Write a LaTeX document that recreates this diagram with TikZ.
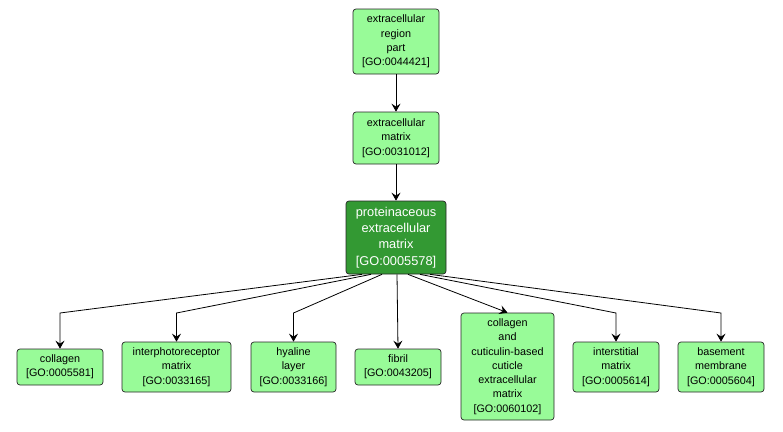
\documentclass[tikz,border=0pt]{standalone}
\usepackage{fontspec}
\setmainfont{Liberation Sans}
\usepackage{tikz}
\usetikzlibrary{arrows.meta,positioning}
\usepackage{xcolor}
\definecolor{go-light}{RGB}{152,251,152}
\definecolor{go-dark}{RGB}{51,153,51}
\tikzstyle{term}=[draw=black!85, fill=go-light, rounded corners=3pt, align=center, inner sep=0pt, line width=.7pt, font=\fontsize{10.8}{14.3}\selectfont]
\tikzstyle{focus}=[term, fill=go-dark, text=white, font=\fontsize{12.8}{16.3}\selectfont]
\tikzstyle{isa}=[-{Stealth[length=8pt,width=9pt,inset=3pt]}, line width=.8pt]

\begin{document}
\begin{tikzpicture}[x=1pt, y=-1pt]
	\useasboundingbox (0,0) rectangle (783,431);
	% top of the chain
	\node[term, minimum width=86pt, minimum height=65pt] (region) at (396,41.5) {extracellular\\region\\part\\{[GO:0044421]}};
	\node[term, minimum width=86pt, minimum height=52pt] (ecm) at (396,138) {extracellular\\matrix\\{[GO:0031012]}};
	\node[focus, minimum width=100pt, minimum height=73pt] (pecm) at (396,237.5) {proteinaceous\\extracellular\\matrix\\{[GO:0005578]}};
	% children
	\node[term, minimum width=86pt, minimum height=36pt] (collagen) at (60,367) {collagen\\{[GO:0005581]}};
	\node[term, minimum width=109pt, minimum height=50pt] (irm) at (176.5,367) {interphotoreceptor\\matrix\\{[GO:0033165]}};
	\node[term, minimum width=85pt, minimum height=50pt] (hyaline) at (293.5,367) {hyaline\\layer\\{[GO:0033166]}};
	\node[term, minimum width=86pt, minimum height=36pt] (fibril) at (398,367) {fibril\\{[GO:0043205]}};
	\node[term, minimum width=93pt, minimum height=107pt] (cuticle) at (507.5,366.5) {collagen\\and\\cuticulin-based\\cuticle\\extracellular\\matrix\\{[GO:0060102]}};
	\node[term, minimum width=86pt, minimum height=50pt] (interstitial) at (616,367) {interstitial\\matrix\\{[GO:0005614]}};
	\node[term, minimum width=86pt, minimum height=50pt] (basement) at (721,367) {basement\\membrane\\{[GO:0005604]}};
	\coordinate (bend) at (0,313);
	% edges
	\draw[isa] (region) -- (ecm);
	\draw[isa] (ecm) -- (pecm);
	\draw[isa] ([xshift=-34pt]pecm.south) -- (collagen.north |- bend) -- (collagen.north);
	\draw[isa] ([xshift=-25pt]pecm.south) -- (irm.north |- bend) -- (irm.north);
	\draw[isa] ([xshift=-14pt]pecm.south) -- (hyaline.north |- bend) -- (hyaline.north);
	\draw[isa] ([xshift=1pt]pecm.south) -- (fibril.north);
	\draw[isa] ([xshift=12pt]pecm.south) -- (cuticle.north);
	\draw[isa] ([xshift=24pt]pecm.south) -- (interstitial.north |- bend) -- (interstitial.north);
	\draw[isa] ([xshift=34pt]pecm.south) -- (basement.north |- bend) -- (basement.north);
\end{tikzpicture}
\end{document}
